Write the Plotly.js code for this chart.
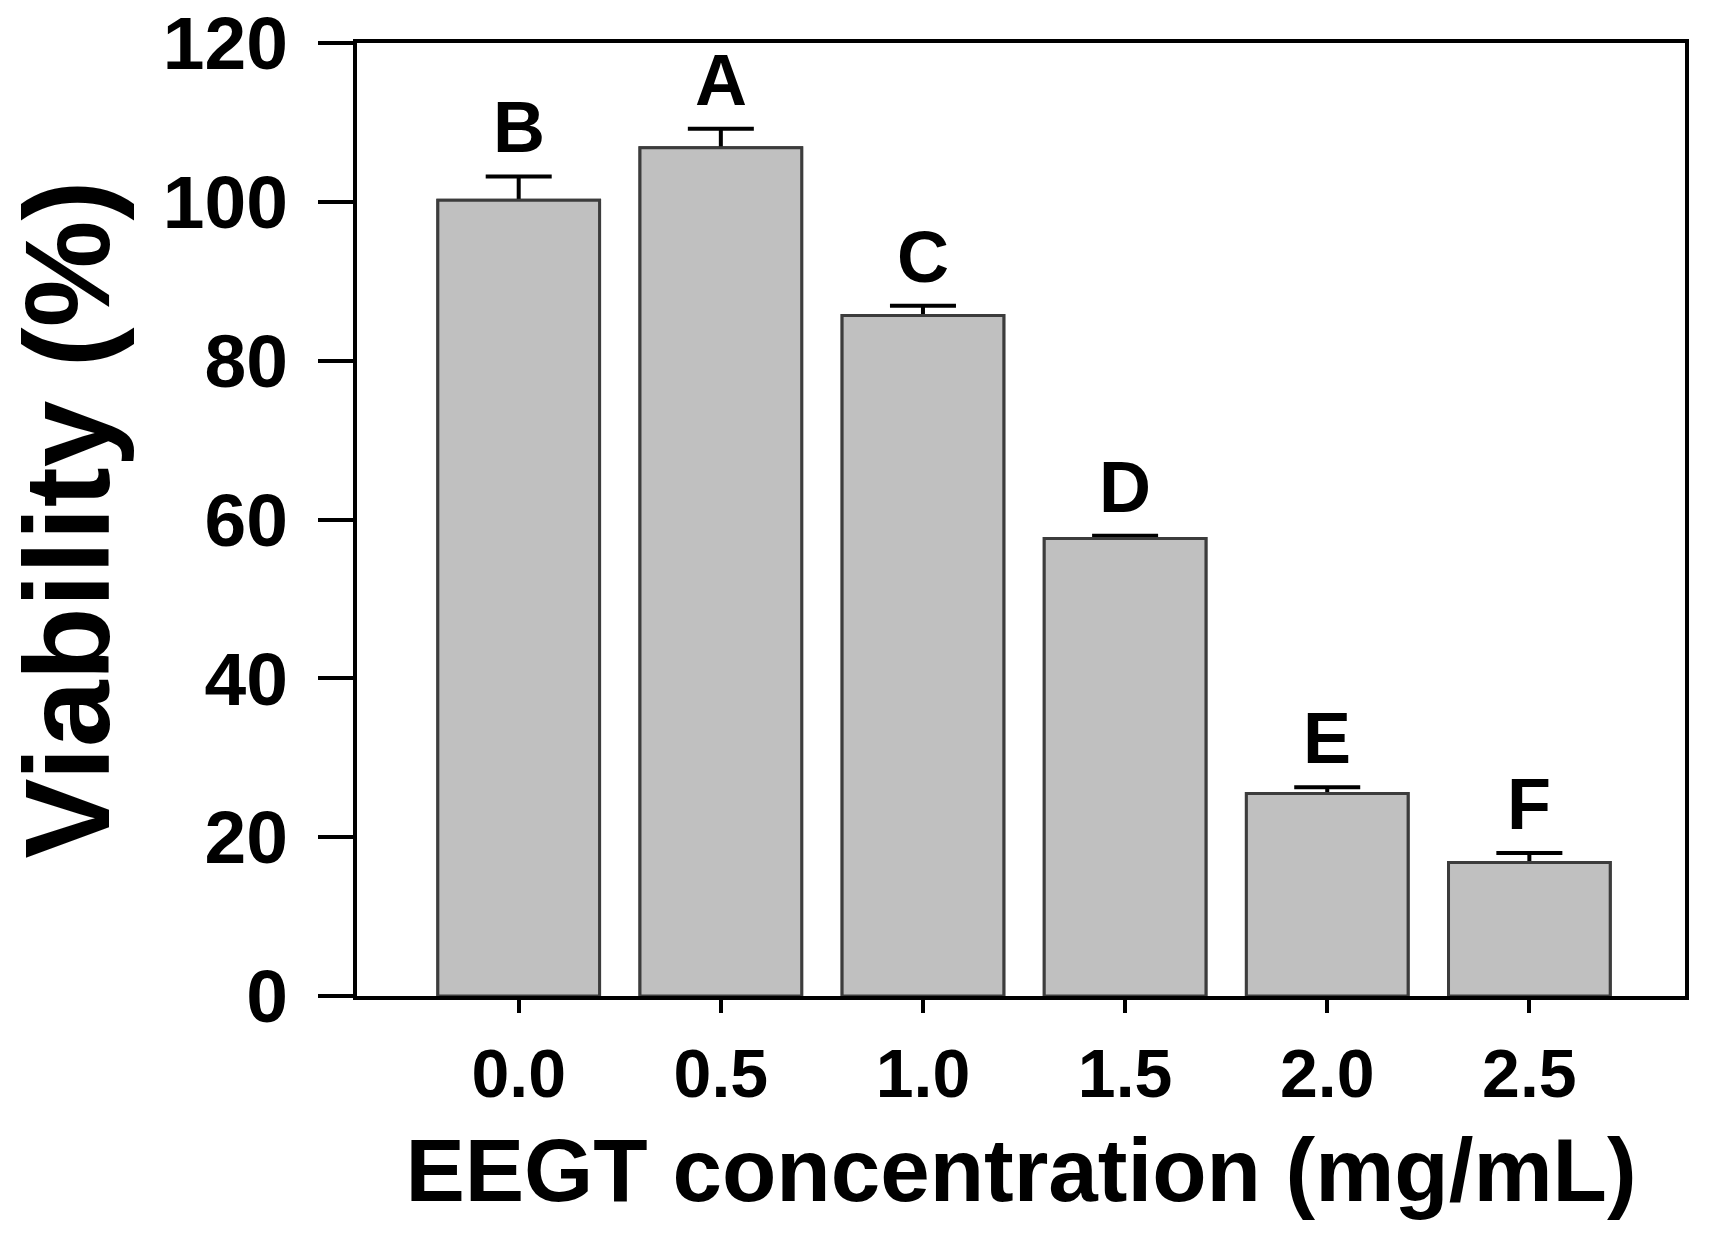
<!DOCTYPE html>
<html>
<head>
<meta charset="utf-8">
<script src="https://cdn.plot.ly/plotly-3.0.1.min.js"></script>
<style>html, body { margin: 0; padding: 0; background: #fff; }</style>
</head>
<body>
<div id="viability-plot" style="width:1730px;height:1248px;"></div>
<script>
// Cell viability vs EEGT concentration, with group letters over each bar
var concentrations = ['0.0', '0.5', '1.0', '1.5', '2.0', '2.5'];
var viability = [100.2, 106.8, 85.7, 57.6, 25.5, 16.8];
var viabilityErr = [3.0, 2.4, 1.2, 0.35, 0.8, 1.2];
var groupLetters = ['B', 'A', 'C', 'D', 'E', 'F'];

var fontFamily = '"Liberation Sans", Arial, sans-serif';
var barFill = '#c0c0c0';
var barEdge = '#3c3c3c';

// plotly always draws a lower cap ("shoe") on error bars, so the error bars
// live on a first bar trace and an identical bar trace on top hides the shoe
var errTrace = {
  type: 'bar',
  x: concentrations,
  y: viability,
  marker: { color: barFill, line: { color: barEdge, width: 3 } },
  error_y: {
    type: 'data',
    symmetric: false,
    array: viabilityErr,
    arrayminus: viabilityErr.map(function() { return 2; }),
    color: '#000',
    thickness: 4,
    width: 33
  },
  hoverinfo: 'skip'
};

var barTrace = {
  type: 'bar',
  x: concentrations,
  y: viability,
  marker: { color: barFill, line: { color: barEdge, width: 3 } },
  hovertemplate: '%{x} mg/mL<br>%{y:.1f} %<extra></extra>'
};

// category strings like '0.5' would be read as numbers, so place by index
var letters = groupLetters.map(function(l, i) {
  return {
    x: i,
    y: viability[i] + viabilityErr[i],
    text: l,
    showarrow: false,
    yanchor: 'bottom',
    yshift: 7,
    font: { family: fontFamily, size: 72, weight: 'bold', color: '#000' }
  };
});

var layout = {
  width: 1730,
  height: 1248,
  margin: { l: 357, r: 45, t: 43, b: 252 },
  paper_bgcolor: '#fff',
  plot_bgcolor: '#fff',
  showlegend: false,
  barmode: 'overlay',
  bargap: 0.2,
  font: { family: fontFamily, color: '#000' },
  xaxis: {
    type: 'category',
    range: [-0.8, 5.77],
    showline: true, linecolor: '#000', linewidth: 4, mirror: true,
    ticks: 'outside', ticklen: 13, tickwidth: 4, tickcolor: '#000',
    showgrid: false, zeroline: false,
    tickfont: { size: 68, weight: 'bold' },
    ticklabelstandoff: 2,
    title: { text: 'EEGT concentration (mg/mL)', font: { size: 89, weight: 'bold' }, standoff: 30 }
  },
  yaxis: {
    range: [0, 120], tick0: 0, dtick: 20,
    showline: true, linecolor: '#000', linewidth: 4, mirror: true,
    ticks: 'outside', ticklen: 35, tickwidth: 4, tickcolor: '#000',
    showgrid: false, zeroline: false,
    tickfont: { size: 75, weight: 'bold' },
    ticklabelstandoff: 15,
    ticklabeloverflow: 'allow',
    title: { text: 'Viability (%)', font: { size: 120, weight: 'bold' }, standoff: 38 }
  },
  annotations: letters
};

Plotly.newPlot('viability-plot', [errTrace, barTrace], layout, { displayModeBar: false });
</script>
</body>
</html>
